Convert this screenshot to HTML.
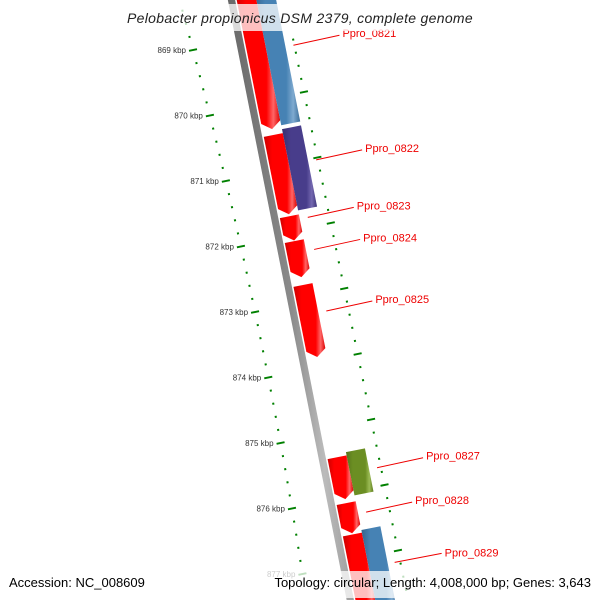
<!DOCTYPE html>
<html><head><meta charset="utf-8"><style>
body{margin:0;background:#fff}
svg{display:block;font-family:"Liberation Sans","DejaVu Sans",sans-serif}
</style></head><body>
<svg id="map" width="600" height="600" viewBox="0 0 600 600" xmlns="http://www.w3.org/2000/svg">
<defs>
<linearGradient id="gRed" x1="0" x2="1" y1="0" y2="0"><stop offset="0" stop-color="#cc0000"/><stop offset="0.25" stop-color="#ff0000"/><stop offset="0.7" stop-color="#ff0000"/><stop offset="0.85" stop-color="#ff6666"/><stop offset="1" stop-color="#dd0000"/></linearGradient>
<linearGradient id="gBlue" x1="0" x2="1"><stop offset="0" stop-color="#35648c"/><stop offset="0.25" stop-color="#4682b4"/><stop offset="0.7" stop-color="#4682b4"/><stop offset="0.85" stop-color="#7faad0"/><stop offset="1" stop-color="#3a6d98"/></linearGradient>
<linearGradient id="gPurple" x1="0" x2="1"><stop offset="0" stop-color="#372f6e"/><stop offset="0.25" stop-color="#483d8b"/><stop offset="0.7" stop-color="#483d8b"/><stop offset="0.85" stop-color="#7468b0"/><stop offset="1" stop-color="#3d3478"/></linearGradient>
<linearGradient id="gOlive" x1="0" x2="1"><stop offset="0" stop-color="#56731a"/><stop offset="0.25" stop-color="#6b8e23"/><stop offset="0.7" stop-color="#6b8e23"/><stop offset="0.85" stop-color="#9bbb55"/><stop offset="1" stop-color="#5d7c1e"/></linearGradient>
<linearGradient id="gGray" x1="0" x2="1"><stop offset="0" stop-color="#666"/><stop offset="0.5" stop-color="#8a8a8a"/><stop offset="0.75" stop-color="#bbb"/><stop offset="1" stop-color="#999"/></linearGradient>
</defs>
<g id="layer"></g>
</svg>
<script>
// data (kbp)
const geneNames = ["Ppro_0820","Ppro_0821","Ppro_0822","Ppro_0823","Ppro_0824","Ppro_0825","Ppro_0827","Ppro_0828","Ppro_0829","Ppro_0830"];
const geneStart = [868.08,868.08,870.34,870.28,871.58,871.96,872.63,875.26,875.21,875.96,876.44,876.40];
const geneEnd   = [870.25,870.22,871.55,871.52,871.95,872.51,873.73,875.90,875.87,876.42,877.70,877.70];
const geneTrack = ["red","blue","red","purple","red","red","red","red","olive","red","red","blue"];
const geneLabel = ["","Ppro_0821","","Ppro_0822","Ppro_0823","Ppro_0824","Ppro_0825","","Ppro_0827","Ppro_0828","",""];
const labelKbp = [0,869.08,0,870.83,871.65,872.14,873.08,0,875.53,876.15,0,876.96];
const tickKbp = [869,870,871,872,873,874,875,876,877];
const tickLabels = ["869 kbp","870 kbp","871 kbp","872 kbp","873 kbp","874 kbp","875 kbp","876 kbp","877 kbp"];

const NS="http://www.w3.org/2000/svg";
const layer=document.getElementById('layer');
function yOf(k){return 50+(k-869)*65.5;}
function gx(y){return 232+0.198*y;}
function P(y,a){return [gx(y)+a, y-0.198*a];}
function leftX(y){return 179.5+0.2754*y-1.067e-4*y*y;}
function rightX(y){return 331+0.205*(y-224);}
function mk(tag,attrs){const e=document.createElementNS(NS,tag);for(const k in attrs)e.setAttribute(k,attrs[k]);layer.appendChild(e);return e;}

// backbone
const bb=mk('polygon',{points:[P(-20,-4),P(620,-4),P(620,3),P(-20,3)].map(p=>p.join(',')).join(' '),fill:'url(#gGray)'});



// left ticks
for(let k=868.2;k<=877.2;k+=0.2){
  const y=yOf(k); const x=leftX(y);
  const major=Math.abs(k-Math.round(k))<0.01;
  const t=mk('line',{x1:x-(major?4:1),y1:y+(major?0.8:0.2),x2:x+(major?4:1),y2:y-(major?0.8:0.2),stroke:'#008000','stroke-width':2});
  
  
}
tickKbp.forEach((k,i)=>{
  const y=yOf(k);
  const t=mk('text',{x:leftX(y)-7,y:y+3,'text-anchor':'end','font-size':8,fill:'#333'});
  t.textContent=tickLabels[i];
  
  
});
// right ticks
for(let k=868.2;k<=877.2;k+=0.2){
  const y=yOf(k)+42; const x=rightX(y);
  const major=Math.abs(k-Math.round(k))<0.01;
  const t=mk('line',{x1:x-(major?4:1),y1:y+(major?0.8:0.2),x2:x+(major?4:1),y2:y-(major?0.8:0.2),stroke:'#008000','stroke-width':2});
  
  
}

// genes
const trackFill={red:'url(#gRed)',blue:'url(#gBlue)',purple:'url(#gPurple)',olive:'url(#gOlive)'};
geneStart.forEach((s,i)=>{
  const y1=yOf(s), y2=yOf(geneEnd[i]);
  const outer=geneTrack[i]!=='red';
  const c=outer?33:14, w=9.5;
  let pts;
  if(outer){pts=[P(y1,c-w),P(y1,c+w),P(y2,c+w),P(y2,c-w)];}
  else{pts=[P(y1,c-w),P(y1,c+w),P(y2-7,c+w),P(y2,c),P(y2-7,c-w)];}
  const g=mk('polygon',{points:pts.map(p=>p.join(',')).join(' '),fill:trackFill[geneTrack[i]]});
  
  
  if(geneLabel[i]){
    const ly=yOf(labelKbp[i]);
    const sx=P(ly,c+w+8);
    const ln=mk('line',{x1:sx[0],y1:sx[1],x2:sx[0]+46,y2:sx[1]-10,stroke:'#e00','stroke-width':1});
    
    
    const tx=mk('text',{x:sx[0]+49,y:sx[1]-8,'font-size':11,fill:'#e00'});
    tx.textContent=geneLabel[i];
    
    
  }
});
// Ppro_0829 label (gene near bottom)
{
  const ly=yOf(876.96); const sx=P(ly,33+9.5+8);
  const ln=mk('line',{x1:sx[0]-1,y1:sx[1]+1,x2:sx[0]+46,y2:sx[1]-8,stroke:'#e00','stroke-width':1});
  
  
  const tx=mk('text',{x:sx[0]+49,y:sx[1]-5,'font-size':11,fill:'#e00'});
  tx.textContent='Ppro_0829';
  
  
}

// overlays
function overlay(x,y,w,h,name){const r=mk('rect',{x:x,y:y,width:w,height:h,fill:'#fff','fill-opacity':0.75});}
overlay(112,4,376,27,'title-background');
const ti=mk('text',{x:300,y:23,'text-anchor':'middle','font-size':14,'font-style':'italic',fill:'#222','letter-spacing':0.3});
ti.textContent='Pelobacter propionicus DSM 2379, complete genome';


overlay(4,571,118,27,'accession-background');
overlay(256,571,340,27,'info-background');
const a=mk('text',{x:9,y:587,'font-size':13,fill:'#000'});
a.textContent='Accession: NC_008609';


const b=mk('text',{x:591,y:587,'text-anchor':'end','font-size':13,fill:'#000'});
b.textContent='Topology: circular; Length: 4,008,000 bp; Genes: 3,643';


</script>
</body></html>
